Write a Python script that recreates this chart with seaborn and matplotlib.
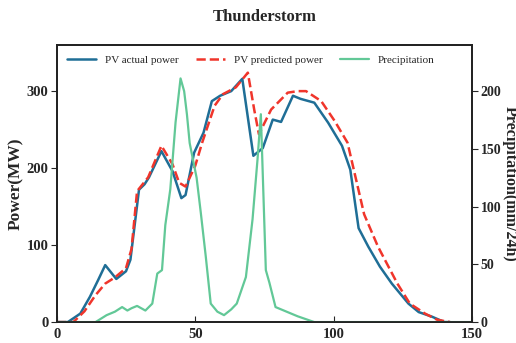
import matplotlib
matplotlib.use("Agg")
import matplotlib.pyplot as plt
import seaborn as sns

# PV actual power (MW)
actual_x = [0, 4, 8.5, 12, 15, 17.5, 21.5, 25, 26.6, 29.7, 31.7, 33.3, 37.8, 41.8, 45, 46.5, 49.6,
            53, 56, 59, 63, 67, 71, 74.4, 78, 81, 85.3, 88, 93, 98, 103, 106, 109, 112.5, 116.7,
            121, 127, 130.7, 135.5, 140, 142]
actual_y = [0, 0, 11, 33, 55, 74, 56, 66, 81, 172, 179, 188, 222, 196, 161, 165, 220,
            246, 287, 294, 300, 316, 216, 226, 263, 260, 294, 290, 285, 259, 229, 198, 122, 98, 72,
            50, 24, 13, 7, 0, 0]

# PV predicted power (MW)
pred_x = [0, 6, 10, 14, 17.5, 21, 25, 27, 29, 33, 37.8, 41.8, 44.2, 46.5, 50, 52.5, 57, 60,
          64.7, 69, 71.3, 73, 77.4, 83.4, 87, 90, 95.5, 100.4, 105, 111, 116, 123, 127.5, 133,
          137.4, 142]
pred_y = [0, 0, 14, 35, 50, 58, 70, 95, 170, 188, 229, 205, 181, 176, 203, 233, 281, 296,
          305, 324, 276, 244, 276, 298, 300, 300, 287, 261, 233, 140, 98, 50, 24, 11,
          3, 0]

# Precipitation (mm/24h)
precip_x = [0, 14, 18, 21, 23.6, 25.5, 27, 29, 32, 34.5, 36.3, 38, 39.2, 41, 42.9, 44.7, 46,
            47, 48, 50.5, 52, 53.8, 55.6, 58, 60.4, 63, 65, 68.3, 70.7, 72.5, 73.7, 75.5, 76.8,
            79, 83, 87, 93, 150]
precip_y = [0, 0, 6, 9, 13, 10, 12, 14, 10, 16, 42, 45, 84, 115, 173, 211, 200,
            180, 155, 125, 95, 57, 16, 9, 6, 11, 16, 39, 89, 141, 180, 45, 34,
            13, 9, 5, 0, 0]

sns.set_style("ticks")
plt.rcParams['font.family'] = ['Liberation Serif', 'DejaVu Serif']

fig = plt.figure(figsize=(5.16, 3.43), dpi=100)
ax = fig.add_axes([0.110, 0.061, 0.805, 0.808])
ax2 = ax.twinx()

sns.lineplot(x=actual_x, y=actual_y, ax=ax, color='#1f6e96', linewidth=1.8,
             label='PV actual power', legend=False)
sns.lineplot(x=pred_x, y=pred_y, ax=ax, color='#f0352b', linewidth=1.8, linestyle='--',
             label='PV predicted power', legend=False)
sns.lineplot(x=precip_x, y=precip_y, ax=ax2, color='#62c897', linewidth=1.6,
             label='Precipitation', legend=False)

ax.set_xlim(0, 150)
ax.set_ylim(0, 360)
ax2.set_ylim(0, 240)
ax.set_xticks([0, 50, 100, 150])
ax.set_yticks([0, 100, 200, 300])
ax2.set_yticks([0, 50, 100, 150, 200])

ax.set_ylabel('Power(MW)', fontsize=12.5, fontweight='bold', labelpad=2)
ax2.set_ylabel('Precipitation(mm/24h)', fontsize=11.5, fontweight='bold', rotation=270)
ax2.yaxis.label.set_va('center')
ax2.yaxis.label.set_ha('center')
ax2.yaxis.label.set_rotation_mode('default')
ax2.yaxis.set_label_coords(1.09, 0.5)
ax.set_title('Thunderstorm', fontsize=12, fontweight='bold', pad=17)

ax.tick_params(axis='x', direction='in', length=4, labelsize=10.5, pad=4)
ax.tick_params(axis='y', direction='out', length=4, labelsize=10.5, pad=2)
ax2.tick_params(axis='y', direction='out', length=4, labelsize=10, pad=2)
for lbl in ax.get_xticklabels() + ax.get_yticklabels() + ax2.get_yticklabels():
    lbl.set_fontweight('bold')

for a in (ax, ax2):
    for s in a.spines.values():
        s.set_linewidth(1.3)
        s.set_color('#222222')

h1, l1 = ax.get_legend_handles_labels()
h2, l2 = ax2.get_legend_handles_labels()
ax.legend(h1 + h2, l1 + l2, loc='upper left', ncol=3, frameon=False, fontsize=8,
          bbox_to_anchor=(0.0, 1.0), handlelength=2.6, columnspacing=1.6)

fig.savefig('out.png', dpi=100)
